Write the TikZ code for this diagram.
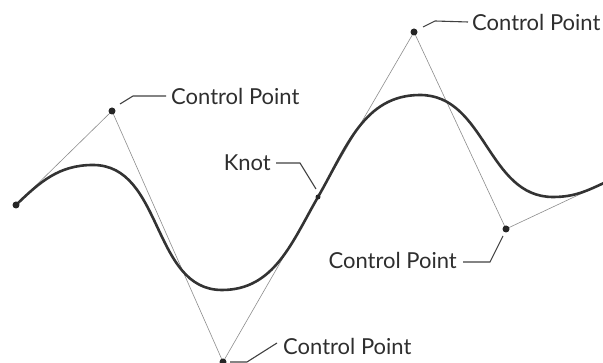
\documentclass[tikz,border=0pt]{standalone}
\usepackage{fontspec}
\setmainfont{Lato}
\begin{document}
\begin{tikzpicture}[x=1pt,y=1pt,
  curveline/.style={line width=2.6pt,draw=black!80,line cap=round},
  ctrlline/.style={line width=0.6pt,draw=black!45},
  leader/.style={line width=1.1pt,draw=black!75},
  dot/.style={circle,fill=black!85,inner sep=0pt,minimum size=7pt},
  knotdot/.style={circle,fill=black!85,inner sep=0pt,minimum size=5pt},
  lbl/.style={inner sep=0pt,text=black!82,font=\fontsize{22}{26}\selectfont}]
\clip (0,0) rectangle (603,363);
\useasboundingbox (0,0) rectangle (603,363);
% key points
\coordinate (S) at (16,158);
\coordinate (C1) at (112,252);
\coordinate (C2) at (223,1);
\coordinate (K) at (318,166);
\coordinate (C3) at (414,331);
\coordinate (C4) at (506,134);
\coordinate (E) at (606,181);
\coordinate (P1) at (93,198);
\coordinate (M1) at (222,73);
\coordinate (P2) at (420,268);
\coordinate (M2) at (553,166);
% control polygon
\draw[ctrlline] (S) -- (C1) -- (C2) -- (K) -- (C3) -- (C4) -- (E);
% curve
\draw[curveline] (S) to[out=44,in=180] (P1) to[out=0,in=180] (M1)
  to[out=0,in=240] (K) to[out=60,in=180] (P2) to[out=0,in=180] (M2)
  to[out=0,in=205] (E);
% dots
\node[dot] (dS) at (S) {};
\node[dot] (dC1) at (C1) {};
\node[dot] (dC2) at (C2) {};
\node[knotdot] (dK) at (K) {};
\node[dot] (dC3) at (C3) {};
\node[dot] (dC4) at (C4) {};
% labels
\node[lbl,anchor=west] (l1) at (171,267) {Control Point};
\node[lbl,anchor=west] (l3) at (472,341) {Control Point};
\node[lbl,anchor=east] (lk) at (271,200) {Knot};
\node[lbl,anchor=east] (l4) at (457,103) {Control Point};
\node[lbl,anchor=west] (l2) at (283,17) {Control Point};
% leaders
\draw[leader] ([shift={(8,7)}]dC1.center) -- ++(13,8) -- (l1.west -| 166,0);
\draw[leader] ([shift={(9,5)}]dC3.center) -- ++(12,6) -- (l3.west -| 468,0);
\draw[leader] ([shift={(-2,8)}]dK.center) -- (300,200) -- (lk.east -| 276,0);
\draw[leader] ([shift={(-3,-7)}]dC4.center) -- (490,101) -- (463,101);
\draw[leader] ([shift={(7,0)}]dC2.center) -- ++(17,0) -- (277,20);
\end{tikzpicture}
\end{document}
